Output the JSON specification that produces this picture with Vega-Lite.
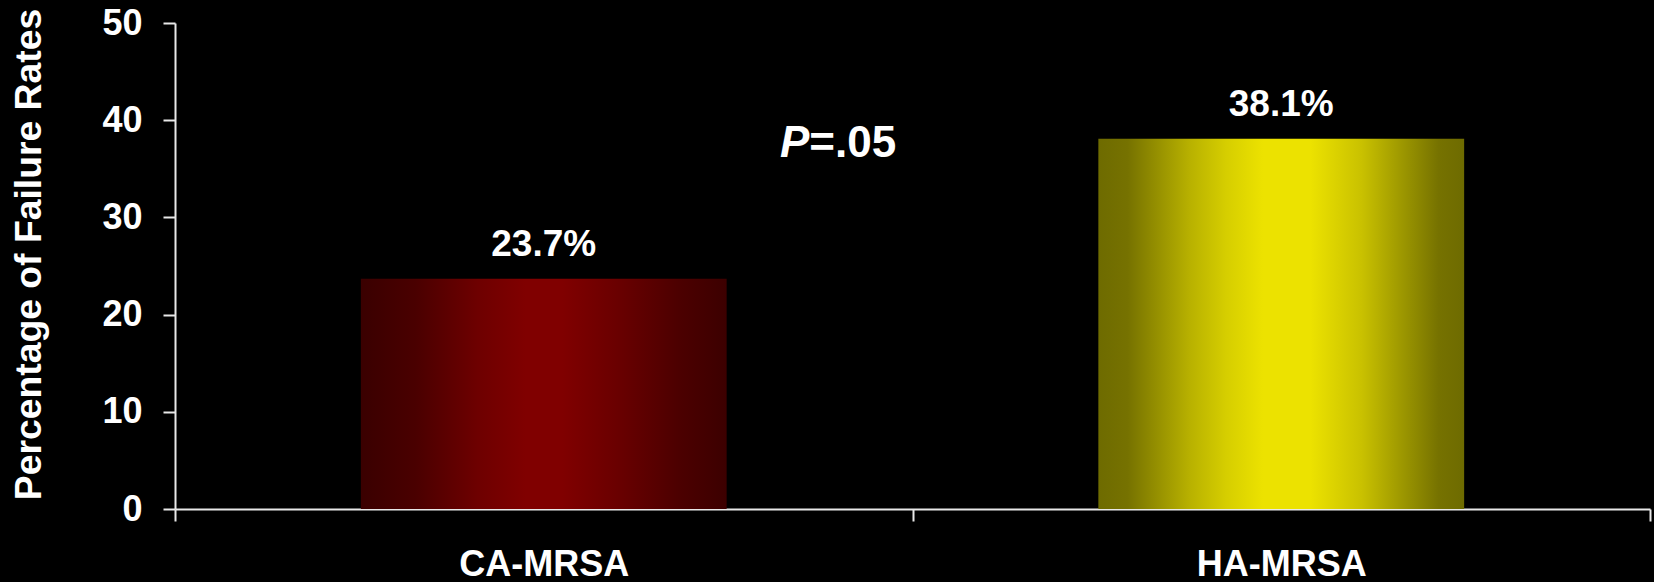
{
  "$schema": "https://vega.github.io/schema/vega-lite/v6.json",
  "width": 1475,
  "height": 486,
  "autosize": "none",
  "padding": {"left": 175, "top": 23, "right": 4, "bottom": 73},
  "background": "#000000",
  "config": {"view": {"stroke": null}, "font": "Liberation Sans"},
  "data": {"values": [
    {"group": "CA-MRSA", "rate": 23.7, "label": "23.7%"},
    {"group": "HA-MRSA", "rate": 38.1, "label": "38.1%"}
  ]},
  "layer": [
    {
      "layer": [
        {
          "transform": [{"filter": "datum.group === 'CA-MRSA'"}],
          "mark": {"type": "bar", "width": {"band": 0.496}, "color": {"gradient": "linear", "x1": 0, "y1": 0, "x2": 1, "y2": 0, "stops": [
            {"offset": 0, "color": "#3a0000"},
            {"offset": 0.15, "color": "#4a0000"},
            {"offset": 0.32, "color": "#6e0000"},
            {"offset": 0.45, "color": "#800000"},
            {"offset": 0.55, "color": "#800000"},
            {"offset": 0.7, "color": "#6a0000"},
            {"offset": 0.87, "color": "#4c0000"},
            {"offset": 1, "color": "#3c0000"}
          ]}},
          "encoding": {
            "x": {"field": "group", "type": "nominal"},
            "y": {"field": "rate", "type": "quantitative"}
          }
        },
        {
          "transform": [{"filter": "datum.group === 'HA-MRSA'"}],
          "mark": {"type": "bar", "width": {"band": 0.496}, "color": {"gradient": "linear", "x1": 0, "y1": 0, "x2": 1, "y2": 0, "stops": [
            {"offset": 0, "color": "#6e6b00"},
            {"offset": 0.08, "color": "#767200"},
            {"offset": 0.25, "color": "#b8b100"},
            {"offset": 0.35, "color": "#d6ce00"},
            {"offset": 0.45, "color": "#ece200"},
            {"offset": 0.58, "color": "#ece200"},
            {"offset": 0.72, "color": "#c9c100"},
            {"offset": 0.85, "color": "#959000"},
            {"offset": 0.93, "color": "#767200"},
            {"offset": 1, "color": "#6e6b00"}
          ]}},
          "encoding": {
            "x": {"field": "group", "type": "nominal"},
            "y": {"field": "rate", "type": "quantitative"}
          }
        },
        {
          "mark": {"type": "text", "baseline": "alphabetic", "dy": -23, "fontSize": 37, "fontWeight": "bold", "color": "#ffffff"},
          "encoding": {
            "x": {"field": "group", "type": "nominal"},
            "y": {"field": "rate", "type": "quantitative"},
            "text": {"field": "label"}
          }
        }
      ],
      "encoding": {
        "x": {
          "field": "group", "type": "nominal", "sort": null,
          "scale": {"paddingInner": 0, "paddingOuter": 0},
          "axis": {
            "title": null, "labelAngle": 0, "tickBand": "extent", "tickSize": 12,
            "labelFontSize": 36, "labelFontWeight": "bold", "labelColor": "#ffffff",
            "labelPadding": 26, "domainColor": "#e8e8e8", "tickColor": "#e8e8e8",
            "domainWidth": 2, "tickWidth": 2
          }
        },
        "y": {
          "field": "rate", "type": "quantitative",
          "scale": {"domain": [0, 50], "nice": false},
          "axis": {
            "title": "Percentage of Failure Rates", "values": [0, 10, 20, 30, 40, 50],
            "grid": false, "tickSize": 12, "labelPadding": 21,
            "labelFontSize": 36, "labelFontWeight": "bold", "labelColor": "#ffffff",
            "titleFontSize": 37.3, "titleFontWeight": "bold", "titleColor": "#ffffff",
            "titlePadding": 53, "titleY": 231,
            "domainColor": "#e8e8e8", "tickColor": "#e8e8e8", "domainWidth": 2, "tickWidth": 2
          }
        }
      }
    },
    {
      "data": {"values": [{"sym": "P", "rest": "=.05", "pos": 0.43, "level": 36.25}]},
      "layer": [
        {
          "mark": {"type": "text", "align": "right", "baseline": "alphabetic", "fontSize": 44, "fontWeight": "bold", "fontStyle": "italic", "color": "#ffffff"},
          "encoding": {"text": {"field": "sym"}}
        },
        {
          "mark": {"type": "text", "align": "left", "baseline": "alphabetic", "fontSize": 44, "fontWeight": "bold", "color": "#ffffff"},
          "encoding": {"text": {"field": "rest"}}
        }
      ],
      "encoding": {
        "x": {"field": "pos", "type": "quantitative", "scale": {"domain": [0, 1], "nice": false, "zero": false}, "axis": null},
        "y": {
          "field": "level", "type": "quantitative",
          "axis": {
            "title": "Percentage of Failure Rates", "values": [0, 10, 20, 30, 40, 50],
            "grid": false, "tickSize": 12, "labelPadding": 21,
            "labelFontSize": 36, "labelFontWeight": "bold", "labelColor": "#ffffff",
            "titleFontSize": 37.3, "titleFontWeight": "bold", "titleColor": "#ffffff",
            "titlePadding": 53, "titleY": 231,
            "domainColor": "#e8e8e8", "tickColor": "#e8e8e8", "domainWidth": 2, "tickWidth": 2
          }
        }
      }
    }
  ],
  "resolve": {"scale": {"x": "independent"}}
}
